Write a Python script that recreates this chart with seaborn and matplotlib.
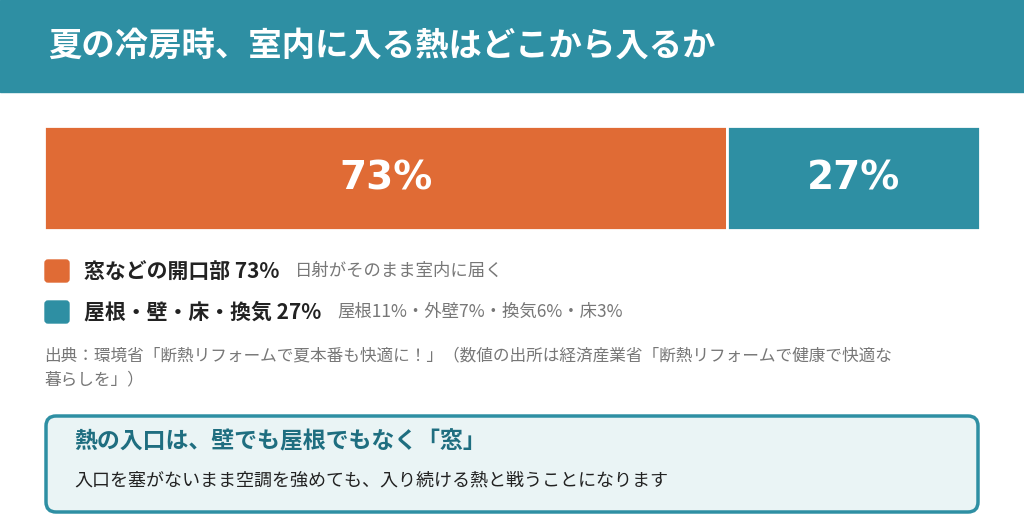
import matplotlib
matplotlib.use("Agg")
import matplotlib.pyplot as plt
import seaborn as sns
import pandas as pd
from matplotlib.patches import FancyBboxPatch, Rectangle

sns.set_theme(style="white")
plt.rcParams['font.family'] = ['Noto Sans CJK JP', 'DejaVu Sans']

categories = ["窓などの開口部", "屋根・壁・床・換気"]
values = [73, 27]
colors = ["#E06B35", "#2E8FA3"]
notes = ["日射がそのまま室内に届く", "屋根11%・外壁7%・換気6%・床3%"]
title = "夏の冷房時、室内に入る熱はどこから入るか"
source = "出典：環境省「断熱リフォームで夏本番も快適に！」（数値の出所は経済産業省「断熱リフォームで健康で快適な\n暮らしを」）"
box_title = "熱の入口は、壁でも屋根でもなく「窓」"
box_text = "入口を塞がないまま空調を強めても、入り続ける熱と戦うことになります"

W, H = 1024, 526
fig = plt.figure(figsize=(W/100, H/100), dpi=100)
fig.patch.set_facecolor("white")
bg = fig.add_axes([0, 0, 1, 1])
bg.set_xlim(0, W); bg.set_ylim(H, 0); bg.axis("off")
bg.add_patch(Rectangle((0, 0), W, 92, color="#2E8FA3"))
bg.text(48, 46, title, color="white", fontsize=24, fontweight="bold", va="center")

ax = fig.add_axes([44/W, 1-230/H, (980-44)/W, 104/H])
left = 0
for i, (c, v) in enumerate(zip(categories, values)):
    sns.barplot(x=[v], y=[0], orient="h", color=colors[i], ax=ax, width=1.0,
                left=left, saturation=1, edgecolor="white", linewidth=2)
    ax.text(left + v/2, 0, f"{v}%", color="white", fontsize=28, fontweight="bold",
            ha="center", va="center", family=["DejaVu Sans"])
    left += v
ax.set_xlim(0, 100); ax.set_ylim(0.5, -0.5)
ax.axis("off")

for i, (c, v, n) in enumerate(zip(categories, values, notes)):
    y = 271 + i*41
    bg.add_patch(FancyBboxPatch((45, y-11), 24, 22, boxstyle="round,pad=0,rounding_size=3",
                                color=colors[i]))
    t = bg.text(84, y, f"{c} {v}%", fontsize=15, fontweight="bold", color="#222", va="center")
    fig.canvas.draw()
    bb = t.get_window_extent()
    bg.text(bb.x1 + 16, y, n, fontsize=12.5, color="#777", va="center")

bg.text(44, 368, source, fontsize=12, color="#777", va="center", linespacing=1.6)

bg.add_patch(FancyBboxPatch((46, 416), 932, 96, boxstyle="round,pad=0,rounding_size=10",
                            facecolor="#EAF4F5", edgecolor="#2E8FA3", linewidth=2.5))
bg.text(74, 442, box_title, fontsize=16.5, fontweight="bold", color="#1F6E80", va="center")
bg.text(74, 481, box_text, fontsize=13, color="#222", va="center")

fig.savefig("out.png", dpi=100)
